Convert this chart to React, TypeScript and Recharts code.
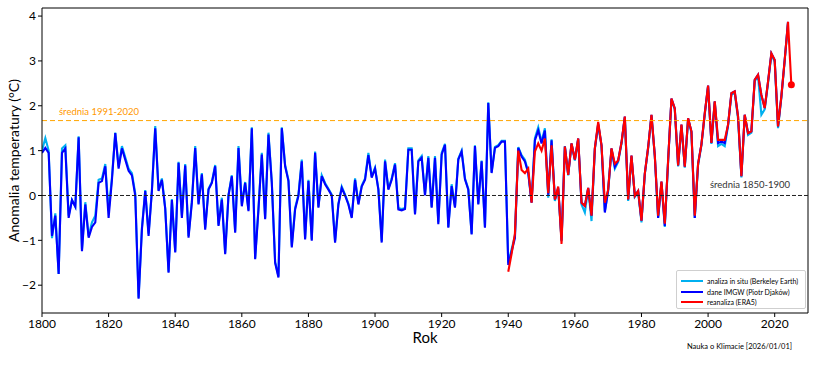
import React from 'react';
import { ComposedChart, Line, XAxis, YAxis, ReferenceLine } from 'recharts';

const FIRST_YEAR = 1800;
const RED_FIRST_YEAR = 1940;

// dane IMGW (Piotr Djaków), 1800-2024
const imgw: number[] = [
  0.95, 1.06, 0.95, -0.9, -0.45, -1.75, 0.95, 1.05, -0.5, -0.1,
  -0.25, 1.3, -1.24, -0.2, -0.94, -0.7, -0.6, 0.28, 0.32, 0.65,
  -0.5, 0.35, 1.39, 0.6, 1.05, 0.8, 0.55, 0.45, 0.0, -2.3,
  -0.76, 0.1, -0.9, 0.1, 1.5, 0.1, 0.35, -0.3, -1.72, -0.1,
  -1.27, 0.73, -0.5, 0.67, -0.94, -0.16, 1.06, -0.2, 0.47, -0.76,
  0.13, 0.28, 0.65, -0.68, -0.09, -1.31, 0.0, 0.43, -0.83, 1.06,
  -0.24, 0.28, -0.35, 1.5, -1.42, -0.31, 0.91, -0.53, 1.36, 0.28,
  -1.5, -1.83, 1.5, 0.65, 0.32, -1.16, -0.31, -0.01, 0.76, -0.98,
  0.32, -1.01, 0.95, -0.27, 0.43, 0.25, 0.13, 0.0, -1.05, -0.2,
  0.17, 0.0, -0.2, -0.5, 0.35, -0.2, 0.2, 0.35, 0.9, 0.4,
  0.6, 0.13, -1.05, 0.76, 0.13, 0.35, 0.69, -0.31, -0.33, -0.3,
  1.02, 1.02, -0.42, 0.76, 0.84, 0.0, 0.84, -0.27, 0.84, -0.64,
  0.91, 1.13, -0.72, 0.21, -0.27, 0.8, 0.98, 0.36, 0.13, -0.87,
  1.1, -0.2, 0.76, -0.72, 2.06, 0.5, 1.06, 1.1, 1.2, 1.2,
  -1.55, -1.25, -0.95, 1.06, 0.87, 0.76, 0.5, -0.16, 1.23, 1.45,
  1.16, 1.45, 0.02, 1.23, -0.09, 0.17, -1.0, 1.09, 0.46, 1.16,
  0.8, 1.27, -0.16, -0.23, 0.17, -0.45, 1.05, 1.6, 1.12, -0.38,
  0.13, 1.05, 0.64, 0.78, 1.18, 1.76, -0.09, 0.89, -0.01, 0.1,
  -0.56, 0.49, 1.07, 1.8, 0.89, -0.5, 0.31, -0.68, 0.78, 2.16,
  1.94, 0.67, 1.58, 0.64, 1.72, 1.43, -0.5, 0.71, 1.14, 1.83,
  2.45, 1.17, 2.1, 1.17, 1.2, 1.17, 1.58, 2.28, 2.32, 1.76,
  0.43, 1.8, 1.39, 1.43, 2.58, 2.69, 2.24, 1.95, 2.54, 3.17,
  3.02, 1.54, 2.21, 3.02, 3.87,
];

// analiza in situ (Berkeley Earth), 1800-2024
const berkeley: number[] = [
  1.0, 1.28, 1.0, -0.95, -0.4, -1.75, 1.05, 1.12, -0.45, -0.1,
  -0.25, 1.32, -1.2, -0.15, -0.9, -0.6, -0.45, 0.35, 0.38, 0.7,
  -0.35, 0.4, 1.4, 0.65, 1.1, 0.85, 0.6, 0.5, 0.05, -2.28,
  -0.72, 0.12, -0.85, 0.12, 1.55, 0.12, 0.38, -0.28, -1.7, -0.08,
  -1.25, 0.75, -0.45, 0.7, -0.9, -0.12, 1.1, -0.18, 0.5, -0.72,
  0.15, 0.3, 0.68, -0.65, -0.05, -1.28, 0.02, 0.45, -0.8, 1.1,
  -0.2, 0.3, -0.32, 1.52, -1.4, -0.28, 0.95, -0.5, 1.4, 0.3,
  -1.48, -1.8, 1.52, 0.68, 0.35, -1.12, -0.28, 0.02, 0.8, -0.95,
  0.35, -0.98, 0.98, -0.25, 0.45, 0.28, 0.15, 0.02, -1.02, -0.18,
  0.2, 0.02, -0.18, -0.48, 0.38, -0.18, 0.22, 0.38, 0.95, 0.42,
  0.62, 0.15, -1.02, 0.8, 0.15, 0.38, 0.72, -0.28, -0.3, -0.28,
  1.05, 1.05, -0.4, 0.78, 0.88, 0.02, 0.88, -0.25, 0.88, -0.6,
  0.95, 1.15, -0.7, 0.25, -0.25, 0.82, 1.0, 0.38, 0.15, -0.85,
  1.12, -0.18, 0.78, -0.7, 2.08, 0.52, 1.08, 1.12, 1.22, 1.22,
  -1.5, -1.2, -0.9, 1.08, 0.9, 0.8, 0.52, -0.15, 1.28, 1.52,
  1.2, 1.5, -0.05, 1.25, -0.12, 0.15, -1.02, 1.1, 0.45, 1.15,
  0.78, 1.25, -0.2, -0.38, 0.15, -0.57, 1.03, 1.58, 1.1, -0.35,
  0.1, 1.03, 0.6, 0.75, 1.15, 1.74, -0.12, 0.87, -0.03, 0.07,
  -0.6, 0.47, 1.05, 1.78, 0.87, -0.5, 0.28, -0.7, 0.75, 2.14,
  1.92, 0.65, 1.56, 0.62, 1.7, 1.4, -0.5, 0.68, 1.12, 1.8,
  2.43, 1.15, 2.08, 1.1, 1.15, 1.1, 1.55, 2.25, 2.28, 1.7,
  0.4, 1.78, 1.35, 1.4, 2.55, 2.66, 1.8, 1.92, 2.5, 3.14,
  2.98, 1.5, 2.18, 3.0, 3.85,
];

// reanaliza (ERA5), 1940-2025
const era5: number[] = [
  -1.7, -1.3, -0.85, 1.0, 0.57, 0.5, 0.6, -0.16, 0.98, 1.16,
  1.0, 1.27, 0.05, 1.12, -0.09, 0.2, -1.08, 1.09, 0.46, 1.16,
  0.8, 1.27, -0.16, -0.23, 0.17, -0.45, 1.05, 1.64, 1.12, -0.16,
  0.13, 1.05, 0.71, 0.78, 1.18, 1.76, -0.09, 0.89, -0.01, 0.1,
  -0.56, 0.49, 1.07, 1.8, 0.89, -0.45, 0.31, -0.63, 0.78, 2.16,
  1.94, 0.67, 1.58, 0.64, 1.72, 1.43, -0.45, 0.71, 1.14, 1.83,
  2.45, 1.17, 2.1, 1.24, 1.24, 1.24, 1.58, 2.28, 2.32, 1.76,
  0.43, 1.8, 1.39, 1.43, 2.58, 2.69, 2.24, 1.95, 2.54, 3.17,
  3.02, 1.54, 2.21, 3.02, 3.87, 2.47,
];

const xTicks = [1800, 1820, 1840, 1860, 1880, 1900, 1920, 1940, 1960, 1980, 2000, 2020];
const yTicks = [-2, -1, 0, 1, 2, 3, 4];
const MEAN_1991_2020 = 1.67;
const MEAN_1850_1900 = 0;

const legendItems = [
  { label: 'analiza in situ (Berkeley Earth)', color: '#00B0F0' },
  { label: 'dane IMGW (Piotr Djaków)', color: '#0000FF' },
  { label: 'reanaliza (ERA5)', color: '#FF0000' },
];

const lastYear = RED_FIRST_YEAR + era5.length - 1;
const data: any[] = [];
for (let y = FIRST_YEAR; y <= lastYear; y++) {
  const i = y - FIRST_YEAR;
  const j = y - RED_FIRST_YEAR;
  data.push({
    year: y,
    berkeley: i < berkeley.length ? berkeley[i] : null,
    imgw: i < imgw.length ? imgw[i] : null,
    era5: j >= 0 && j < era5.length ? era5[j] : null,
  });
}

const fmt = (v: number) => (v < 0 ? '\u2212' + Math.abs(v) : String(v));

const renderRedDot = (p: any) => {
  if (p.index === data.length - 1) {
    return <circle key={'d' + p.index} cx={p.cx} cy={p.cy} r={3.5} fill="#FF0000" stroke="none" />;
  }
  return <g key={'d' + p.index} />;
};

export default function App() {
  return (
    <div style={{ position: 'absolute', left: 0, top: 0, width: 817, height: 368, fontFamily: 'Lato', background: '#fff' }}>
      <ComposedChart width={817} height={368} data={data} margin={{ top: 8, right: 9, left: 0, bottom: 0 }}>
        <XAxis
          dataKey="year"
          type="number"
          domain={[1800, 2030]}
          ticks={xTicks}
          allowDataOverflow
          height={55}
          tickSize={4}
          tickMargin={2}
          axisLine={{ stroke: '#000' }}
          tickLine={{ stroke: '#000' }}
          tick={{ fill: '#000', fontSize: 12 }}
          label={{ value: 'Rok', position: 'insideBottom', offset: 25, style: { fill: '#000', fontSize: 15 } }}
        />
        <YAxis
          type="number"
          domain={[-2.62, 4.18]}
          ticks={yTicks}
          allowDataOverflow
          width={42}
          tickSize={4}
          tickMargin={2}
          tickFormatter={fmt}
          axisLine={{ stroke: '#000' }}
          tickLine={{ stroke: '#000' }}
          tick={{ fill: '#000', fontSize: 12 }}
          label={{ value: 'Anomalia temperatury (°C)', angle: -90, position: 'insideLeft', offset: 14, style: { fill: '#000', fontSize: 14, textAnchor: 'middle' } }}
        />
        <ReferenceLine y={4.18} stroke="#000" strokeWidth={1} />
        <ReferenceLine x={2030} stroke="#000" strokeWidth={1} />
        <Line dataKey="berkeley" stroke="#00B0F0" strokeWidth={2.1} dot={false} isAnimationActive={false} />
        <Line dataKey="imgw" stroke="#0000FF" strokeWidth={2.1} dot={false} isAnimationActive={false} />
        <Line dataKey="era5" stroke="#FF0000" strokeWidth={2.1} dot={renderRedDot} activeDot={false} isAnimationActive={false} />
        <ReferenceLine
          y={MEAN_1991_2020}
          stroke="#FFA500"
          strokeWidth={1}
          strokeDasharray="5 3"
          label={(p: any) => (
            <text x={p.viewBox.x + 17} y={p.viewBox.y - 6} fill="#FF9900" fontSize={9.5}>średnia 1991-2020</text>
          )}
        />
        <ReferenceLine
          y={MEAN_1850_1900}
          stroke="#222"
          strokeWidth={1}
          strokeDasharray="4 2"
          label={(p: any) => (
            <text x={p.viewBox.x + p.viewBox.width - 18} y={p.viewBox.y - 7} fill="#333" fontSize={9.5} textAnchor="end">średnia 1850-1900</text>
          )}
        />
      </ComposedChart>
      <div style={{ position: 'absolute', left: 676, top: 270, width: 130, height: 39, boxSizing: 'border-box', border: '1px solid #cfcfcf', borderRadius: 2, background: '#fff', padding: '5px 0 0 4px' }}>
        {legendItems.map((it) => (
          <div key={it.label} style={{ display: 'flex', alignItems: 'center', height: 10.5 }}>
            <div style={{ width: 22, height: 2, background: it.color, marginRight: 4 }} />
            <span style={{ fontSize: 7, color: '#000', whiteSpace: 'nowrap', lineHeight: '10px' }}>{it.label}</span>
          </div>
        ))}
      </div>
      <div style={{ position: 'absolute', left: 687, top: 342, fontSize: 7.5, color: '#000', whiteSpace: 'nowrap' }}>Nauka o Klimacie [2026/01/01]</div>
    </div>
  );
}
